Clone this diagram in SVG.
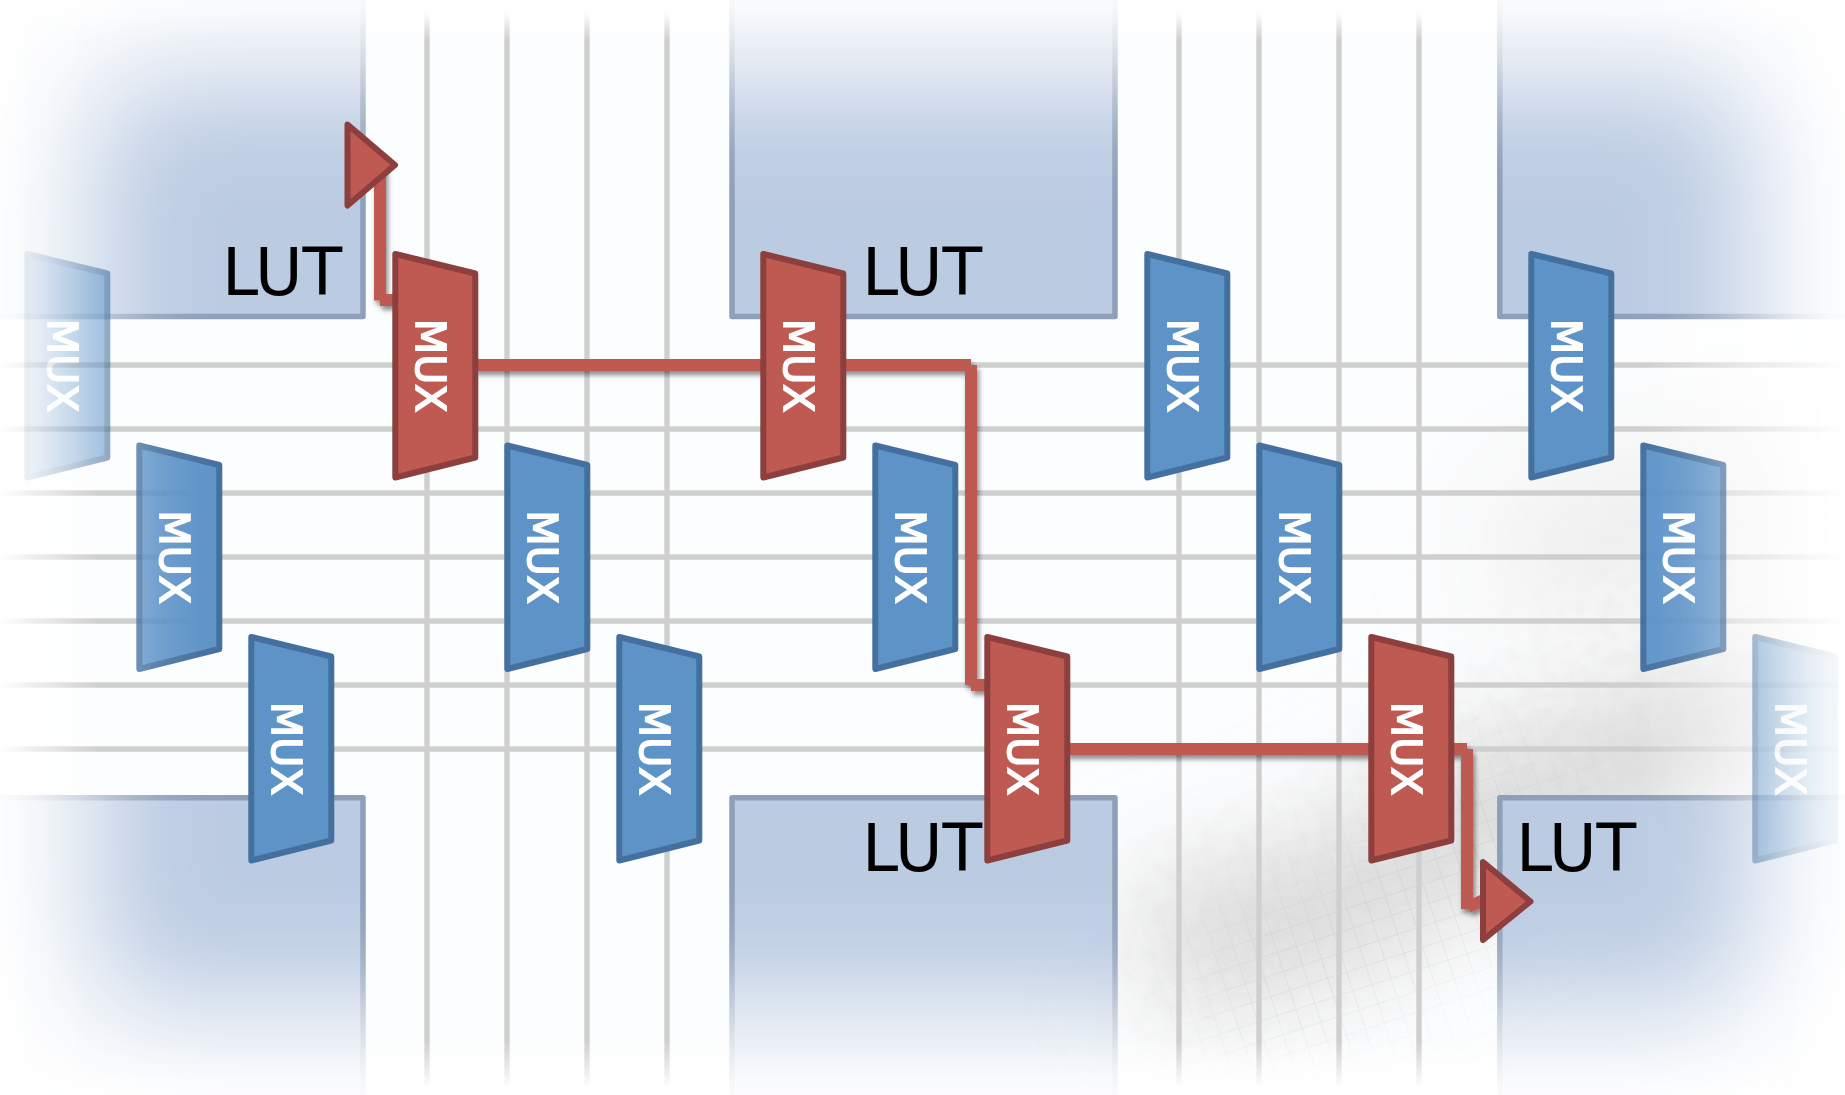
<svg xmlns="http://www.w3.org/2000/svg" width="1845" height="1095" viewBox="0 0 1845 1095">
<style>
.grid line{stroke:#cfcfcf;stroke-width:5.4}
.lut{fill:#bbcbe2;stroke:#8e9fb8;stroke-width:5.5;stroke-linejoin:round}
.lutt{font-family:"DejaVu Sans",sans-serif;font-size:65px;fill:#000}
.mb polygon{fill:#5e93c8;stroke:#44709f;stroke-width:6;stroke-linejoin:round}
.mr polygon{fill:#bf5a53;stroke:#8c3f3c;stroke-width:6;stroke-linejoin:round}
.mux text{font-family:"DejaVu Sans",sans-serif;font-size:41px;fill:#fff;stroke:#fff;stroke-width:1.8;text-anchor:middle}
.tri{fill:#bf5a53;stroke:#8c3f3c;stroke-width:6;stroke-linejoin:round}
.con{fill:none;stroke:#bf5a53;stroke-width:12;stroke-linecap:butt;stroke-linejoin:miter}
</style>
<defs>
<filter id="b48" filterUnits="userSpaceOnUse" x="-300" y="-300" width="2445" height="1695"><feGaussianBlur stdDeviation="58"/></filter>
<filter id="b50" filterUnits="userSpaceOnUse" x="0" y="0" width="1845" height="1095"><feGaussianBlur stdDeviation="55"/></filter>
<filter id="noise" filterUnits="userSpaceOnUse" x="0" y="0" width="1845" height="1095"><feTurbulence type="fractalNoise" baseFrequency="0.06" numOctaves="3" seed="4"/><feColorMatrix values="0 0 0 0 .55  0 0 0 0 .55  0 0 0 0 .55  1.6 0 0 0 -.55"/></filter>
<filter id="sh" filterUnits="userSpaceOnUse" x="0" y="0" width="1845" height="1095"><feDropShadow dx="2" dy="4" stdDeviation="2.5" flood-color="#000" flood-opacity="0.45"/></filter>
<linearGradient id="hg" gradientUnits="userSpaceOnUse" x1="0" y1="0" x2="1845" y2="0"><stop offset="0" stop-color="#000"/><stop offset=".054" stop-color="#fff"/><stop offset=".889" stop-color="#fff"/><stop offset="1" stop-color="#000"/></linearGradient>
<linearGradient id="vg" gradientUnits="userSpaceOnUse" x1="0" y1="0" x2="0" y2="1095"><stop offset=".011" stop-color="#000"/><stop offset=".037" stop-color="#fff"/><stop offset=".95" stop-color="#fff"/><stop offset=".994" stop-color="#000"/></linearGradient>
<mask id="mh" maskUnits="userSpaceOnUse" x="0" y="0" width="1845" height="1095"><rect width="1845" height="1095" fill="url(#hg)"/></mask>
<mask id="mv" maskUnits="userSpaceOnUse" x="0" y="0" width="1845" height="1095"><rect width="1845" height="1095" fill="url(#vg)"/></mask>
<mask id="wide" maskUnits="userSpaceOnUse" x="0" y="0" width="1845" height="1095"><rect x="95" y="80" width="1655" height="925" rx="60" fill="#fff" filter="url(#b48)"/></mask>
<pattern id="hatch" patternUnits="userSpaceOnUse" width="20" height="20" patternTransform="rotate(-18)"><path d="M0 0H20M0 0V20" fill="none" stroke="#8f8f8f" stroke-width="1.6" opacity=".55"/></pattern>
<mask id="hm" maskUnits="userSpaceOnUse" x="0" y="0" width="1845" height="1095"><path d="M1200 1020L1400 930L1560 780" stroke="#fff" stroke-opacity=".35" stroke-width="150" fill="none" filter="url(#b50)"/></mask>
<mask id="nm" maskUnits="userSpaceOnUse" x="0" y="0" width="1845" height="1095"><path d="M1120 960L1320 900L1500 760L1760 600" stroke="#fff" stroke-opacity=".14" stroke-width="200" fill="none" filter="url(#b50)"/></mask>
</defs>
<rect width="1845" height="1095" fill="#fff"/>
<g mask="url(#mv)"><g mask="url(#mh)">
<rect width="1845" height="1095" fill="#fcfdfe"/>
<g id="paper">
<path d="M1150 950L1320 915L1490 810L1620 770L1800 690" stroke="#d9d9d9" stroke-width="130" fill="none" filter="url(#b50)"/>
<path d="M1500 560L1800 500" stroke="#efefef" stroke-width="150" fill="none" filter="url(#b50)"/>
<rect x="1000" y="600" width="845" height="495" fill="url(#hatch)" mask="url(#hm)"/>
<rect x="1050" y="450" width="795" height="645" filter="url(#noise)" mask="url(#nm)"/>
</g>
<g class="grid" id="grid">
<line x1="427" y1="0" x2="427" y2="1095"/><line x1="507" y1="0" x2="507" y2="1095"/><line x1="587" y1="0" x2="587" y2="1095"/><line x1="667" y1="0" x2="667" y2="1095"/>
<line x1="1179" y1="0" x2="1179" y2="1095"/><line x1="1259" y1="0" x2="1259" y2="1095"/><line x1="1339" y1="0" x2="1339" y2="1095"/><line x1="1419" y1="0" x2="1419" y2="1095"/>
<line x1="0" y1="365" x2="1845" y2="365"/><line x1="0" y1="429" x2="1845" y2="429"/><line x1="0" y1="493" x2="1845" y2="493"/><line x1="0" y1="557" x2="1845" y2="557"/><line x1="0" y1="621" x2="1845" y2="621"/><line x1="0" y1="685" x2="1845" y2="685"/><line x1="0" y1="749" x2="1845" y2="749"/>
</g>
</g></g>
<g mask="url(#wide)">
<g id="lut1"><rect class="lut" x="-20" y="-20" width="383" height="336.5"/><text class="lutt" x="222" y="294.5">LUT</text></g>
<g id="lut2"><rect class="lut" x="732" y="-20" width="383" height="336.5"/><text class="lutt" x="862" y="294.5">LUT</text></g>
<g id="lut3"><rect class="lut" x="1499.8" y="-20" width="400" height="336.5"/></g>
<g id="lut4"><rect class="lut" x="-20" y="797.8" width="383" height="320"/></g>
<g id="lut5"><rect class="lut" x="732" y="797.8" width="383" height="320"/><text class="lutt" x="862" y="871">LUT</text></g>
<g id="lut6"><rect class="lut" x="1499.8" y="797.8" width="400" height="320"/><text class="lutt" x="1516" y="871">LUT</text></g>
</g>
<g id="connectors" class="con" filter="url(#sh)">
<path d="M394 300H380M380 300.500V165"/>
<path d="M474 365H971M971 365V685M971 685H990"/>
<path d="M1066 749H1467M1467 749V909M1468 907L1486 899"/>
</g>
<g mask="url(#wide)">
<g id="mux1" class="mux mb" transform="translate(25 251)"><polygon points="2.300,3 82.300,22.500 82.300,206.500 2.300,226.500"/><text transform="translate(23 114.500) rotate(90)">MUX</text></g>
<g id="mux2" class="mux mb" transform="translate(137 442.500)"><polygon points="2.300,3 82.300,22.500 82.300,206.500 2.300,226.500"/><text transform="translate(23 114.500) rotate(90)">MUX</text></g>
<g id="mux3" class="mux mb" transform="translate(249 634)"><polygon points="2.300,3 82.300,22.500 82.300,206.500 2.300,226.500"/><text transform="translate(23 114.500) rotate(90)">MUX</text></g>
<g id="mux4" class="mux mr" transform="translate(393 251)"><polygon points="2.300,3 82.300,22.500 82.300,206.500 2.300,226.500"/><text transform="translate(23 114.500) rotate(90)">MUX</text></g>
<g id="mux5" class="mux mb" transform="translate(505 442.500)"><polygon points="2.300,3 82.300,22.500 82.300,206.500 2.300,226.500"/><text transform="translate(23 114.500) rotate(90)">MUX</text></g>
<g id="mux6" class="mux mb" transform="translate(617 634)"><polygon points="2.300,3 82.300,22.500 82.300,206.500 2.300,226.500"/><text transform="translate(23 114.500) rotate(90)">MUX</text></g>
<g id="mux7" class="mux mr" transform="translate(761 251)"><polygon points="2.300,3 82.300,22.500 82.300,206.500 2.300,226.500"/><text transform="translate(23 114.500) rotate(90)">MUX</text></g>
<g id="mux8" class="mux mb" transform="translate(873 442.500)"><polygon points="2.300,3 82.300,22.500 82.300,206.500 2.300,226.500"/><text transform="translate(23 114.500) rotate(90)">MUX</text></g>
<g id="mux9" class="mux mr" transform="translate(985 634)"><polygon points="2.300,3 82.300,22.500 82.300,206.500 2.300,226.500"/><text transform="translate(23 114.500) rotate(90)">MUX</text></g>
<g id="mux10" class="mux mb" transform="translate(1145 251)"><polygon points="2.300,3 82.300,22.500 82.300,206.500 2.300,226.500"/><text transform="translate(23 114.500) rotate(90)">MUX</text></g>
<g id="mux11" class="mux mb" transform="translate(1257 442.500)"><polygon points="2.300,3 82.300,22.500 82.300,206.500 2.300,226.500"/><text transform="translate(23 114.500) rotate(90)">MUX</text></g>
<g id="mux12" class="mux mr" transform="translate(1369 634)"><polygon points="2.300,3 82.300,22.500 82.300,206.500 2.300,226.500"/><text transform="translate(23 114.500) rotate(90)">MUX</text></g>
<g id="mux13" class="mux mb" transform="translate(1529 251)"><polygon points="2.300,3 82.300,22.500 82.300,206.500 2.300,226.500"/><text transform="translate(23 114.500) rotate(90)">MUX</text></g>
<g id="mux14" class="mux mb" transform="translate(1641 442.500)"><polygon points="2.300,3 82.300,22.500 82.300,206.500 2.300,226.500"/><text transform="translate(23 114.500) rotate(90)">MUX</text></g>
<g id="mux15" class="mux mb" transform="translate(1753 634)"><polygon points="2.300,3 82.300,22.500 82.300,206.500 2.300,226.500"/><text transform="translate(23 114.500) rotate(90)">MUX</text></g>
</g>
<g id="arrow-start"><polygon class="tri" points="347.500,124.500 395,165 347.500,205.500"/></g>
<g id="arrow-end"><polygon class="tri" points="1483,862 1530.500,901.500 1483,940"/></g>
</svg>
